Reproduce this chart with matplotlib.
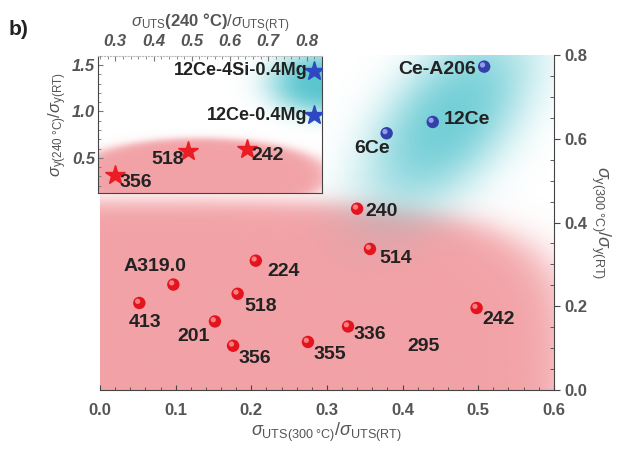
import numpy as np
import matplotlib
matplotlib.use("Agg")
import matplotlib.pyplot as plt
from matplotlib.ticker import MultipleLocator
from matplotlib.colors import to_rgb
import matplotlib.transforms as mtrans

plt.rcParams['font.family'] = ['Liberation Sans', 'DejaVu Sans']
plt.rcParams['mathtext.fontset'] = 'custom'
plt.rcParams['mathtext.rm'] = 'Liberation Sans'
plt.rcParams['mathtext.it'] = 'Liberation Sans:italic'
plt.rcParams['mathtext.bf'] = 'Liberation Sans:bold'

# main panel: conventional alloys (red) and Ce alloys (blue), 300 C
red_names = ['240', '514', '242', '336', '355', '413', 'A319.0', '201', '356', '518', '224']
red_x = [0.340, 0.357, 0.498, 0.328, 0.275, 0.052, 0.097, 0.152, 0.176, 0.182, 0.206]
red_y = [0.433, 0.337, 0.196, 0.152, 0.115, 0.208, 0.252, 0.164, 0.106, 0.230, 0.309]
blue_names = ['Ce-A206', '12Ce', '6Ce']
blue_x = [0.508, 0.440, 0.379]
blue_y = [0.772, 0.640, 0.613]
extra_label = '295'
extra_xy = (0.428, 0.105)

# inset: 240 C
inset_red_names = ['518', '242', '356']
inset_red_x = [0.49, 0.645, 0.30]
inset_red_y = [0.57, 0.59, 0.32]
inset_blue_names = ['12Ce-4Si-0.4Mg', '12Ce-0.4Mg']
inset_blue_x = [0.82, 0.82]
inset_blue_y = [1.44, 0.96]

# label placement (offset in points, ha, va)
red_lab = [((6, -2), 'left', 'center'), ((7, -7), 'left', 'center'),
           ((4, -8), 'left', 'center'), ((4, -6), 'left', 'center'),
           ((4, -9), 'left', 'center'), ((4, -14), 'center', 'center'),
           ((-13, 13), 'center', 'center'), ((-4, -11), 'right', 'center'),
           ((4, -9), 'left', 'center'), ((5, -9), 'left', 'center'),
           ((8, -8), 'left', 'center')]
blue_lab = [((-6, -2), 'right', 'center'), ((8, 2), 'left', 'center'),
            ((2, -11), 'right', 'center')]
inset_red_lab = [((-3, -6), 'right', 'center'), ((3, -4), 'left', 'center'),
                 ((3, -6), 'left', 'center')]
inset_blue_lab = [((-5, 0), 'right', 'center'), ((-5, 0), 'right', 'center')]

TXT = '#222222'
TICK = '#555555'
PINK = to_rgb('#f2a2a6')
CYAN = to_rgb('#52c3cd')

fig = plt.figure(figsize=(6.25, 4.5), dpi=100)
ax = fig.add_axes([0.160, 0.133, 0.726, 0.745])
ax.set_xlim(0, 0.6)
ax.set_ylim(0, 0.8)


def blob(axis, xlim, ylim, alpha_fn, color, z=0):
    xs = np.linspace(xlim[0], xlim[1], 400)
    ys = np.linspace(ylim[0], ylim[1], 400)
    X, Y = np.meshgrid(xs, ys)
    A = np.clip(alpha_fn(X, Y), 0, 1)
    img = np.zeros(X.shape + (4,))
    img[..., :3] = color
    img[..., 3] = A
    axis.imshow(img, extent=[xlim[0], xlim[1], ylim[0], ylim[1]], origin='lower',
                aspect='auto', interpolation='bilinear', zorder=z)


def red_main(X, Y):
    r = ((X / 0.64) ** 4 + (Y / 0.465) ** 4) ** 0.25
    return 1 / (1 + np.exp((r - 0.97) / 0.03))


def cyan_main(X, Y):
    u = (X - 0.462) * 757
    v = (Y - 0.645) * 419
    c, s = np.cos(np.radians(50)), np.sin(np.radians(50))
    a = u * c + v * s
    b = -u * s + v * c
    d = (a / 125) ** 2 + (b / 66) ** 2
    return 0.8 * np.exp(-1.4 * d ** 1.3)


blob(ax, (0, 0.6), (0, 0.8), red_main, PINK)
blob(ax, (0, 0.6), (0, 0.8), cyan_main, CYAN)


def spheres(axis, xs, ys, face, hi, size):
    axis.scatter(xs, ys, s=size, c=face, edgecolors='none', zorder=3)
    tr = mtrans.offset_copy(axis.transData, fig=fig, x=-1.2, y=1.2, units='points')
    axis.scatter(xs, ys, s=size * 0.18, c=hi, edgecolors='none', zorder=4,
                 transform=tr, alpha=0.8)


spheres(ax, red_x, red_y, '#e3141e', '#ff9a9a', 80)
spheres(ax, blue_x, blue_y, '#3340a8', '#a8b4ff', 80)

for n, x, y, (off, ha, va) in zip(red_names, red_x, red_y, red_lab):
    ax.annotate(n, (x, y), xytext=off, textcoords='offset points', ha=ha, va=va,
                fontsize=14, fontweight='bold', color=TXT, zorder=5)
for n, x, y, (off, ha, va) in zip(blue_names, blue_x, blue_y, blue_lab):
    ax.annotate(n, (x, y), xytext=off, textcoords='offset points', ha=ha, va=va,
                fontsize=14, fontweight='bold', color=TXT, zorder=5)
ax.text(extra_xy[0], extra_xy[1], extra_label, ha='center', va='center',
        fontsize=14, fontweight='bold', color=TXT, zorder=5)

ax.spines['top'].set_visible(False)
ax.spines['left'].set_visible(False)
ax.spines['bottom'].set_color('#444444')
ax.spines['right'].set_color('#444444')
ax.yaxis.tick_right()
ax.yaxis.set_label_position('right')
ax.xaxis.set_major_locator(MultipleLocator(0.1))
ax.xaxis.set_minor_locator(MultipleLocator(0.02))
ax.yaxis.set_major_locator(MultipleLocator(0.2))
ax.yaxis.set_minor_locator(MultipleLocator(0.05))
ax.tick_params(axis='x', which='both', direction='in', colors='#444444', labelcolor=TICK,
               labelsize=12, pad=9)
ax.tick_params(axis='y', which='major', direction='out', length=4, colors='#444444',
               labelcolor=TICK, labelsize=12)
ax.tick_params(axis='y', which='minor', direction='in', length=3, colors='#444444')
for lab in ax.get_xticklabels() + ax.get_yticklabels():
    lab.set_fontweight('bold')
ax.xaxis.set_major_formatter(plt.FuncFormatter(lambda v, p: f'{v:.1f}'))
ax.yaxis.set_major_formatter(plt.FuncFormatter(lambda v, p: f'{v:.1f}'))

ax.set_xlabel(r'$\sigma_{\mathrm{UTS(300\ °C)}}/\sigma_{\mathrm{UTS(RT)}}$',
              fontsize=13, color=TICK, labelpad=2)
ax.set_ylabel(r'$\sigma_{\mathrm{y(300\ °C)}}/\sigma_{\mathrm{y(RT)}}$',
              fontsize=13, color=TICK, rotation=270, labelpad=18)

# inset
ins = fig.add_axes([0.157, 0.571, 0.358, 0.305])
ins.set_xlim(0.255, 0.84)
ins.set_ylim(0.12, 1.60)


def red_inset(X, Y):
    u = (X - 0.52) / 0.35
    v = (Y - 0.30) / 0.42
    r = np.sqrt(u ** 2 + v ** 2)
    return 1 / (1 + np.exp((r - 0.97) / 0.05))


def cyan_inset(X, Y):
    u = (X - 0.84) / 0.17
    v = (Y - 1.30) / 0.42
    d = u ** 2 + v ** 2
    return 0.95 * np.exp(-1.8 * d ** 1.5)


blob(ins, (0.255, 0.84), (0.12, 1.60), red_inset, PINK)
blob(ins, (0.255, 0.84), (0.12, 1.60), cyan_inset, CYAN)

ins.plot(inset_red_x, inset_red_y, ls='none', marker='*', ms=15, color='#ea1c24', zorder=3)
ins.plot(inset_blue_x, inset_blue_y, ls='none', marker='*', ms=15, color='#2d48c0', zorder=3)
for n, x, y, (off, ha, va) in zip(inset_red_names, inset_red_x, inset_red_y, inset_red_lab):
    ins.annotate(n, (x, y), xytext=off, textcoords='offset points', ha=ha, va=va,
                 fontsize=14, fontweight='bold', color=TXT, zorder=5)
for n, x, y, (off, ha, va) in zip(inset_blue_names, inset_blue_x, inset_blue_y, inset_blue_lab):
    ins.annotate(n, (x, y), xytext=off, textcoords='offset points', ha=ha, va=va,
                 fontsize=13, fontweight='bold', color=TXT, zorder=5)

ins.xaxis.tick_top()
ins.xaxis.set_label_position('top')
ins.xaxis.set_major_locator(MultipleLocator(0.1))
ins.xaxis.set_minor_locator(MultipleLocator(0.02))
ins.yaxis.set_major_locator(MultipleLocator(0.5))
ins.yaxis.set_minor_locator(MultipleLocator(0.1))
ins.tick_params(which='both', direction='in', colors='#777777', labelcolor=TICK, labelsize=12)
ins.tick_params(axis='x', pad=5)
ins.tick_params(axis='y', pad=2)
for lab in ins.get_xticklabels() + ins.get_yticklabels():
    lab.set_fontweight('bold')
    lab.set_fontstyle('italic')
ins.xaxis.set_major_formatter(plt.FuncFormatter(lambda v, p: f'{v:.1f}'))
ins.yaxis.set_major_formatter(plt.FuncFormatter(lambda v, p: f'{v:.1f}'))
for s in ins.spines.values():
    s.set_color('#444444')
ins.spines['top'].set_color('#bbbbbb')
ins.spines['top'].set_linestyle(':')
ins.set_xlabel(r'$\sigma_{\mathrm{UTS}}$' + r'$\mathbf{(240\ °C)}$' + r'$/\sigma_{\mathrm{UTS(RT)}}$',
               fontsize=12, color=TICK, labelpad=5)
ins.set_ylabel(r'$\sigma_{\mathrm{y(240\ °C)}}/\sigma_{\mathrm{y(RT)}}$',
               fontsize=12, color=TICK, labelpad=2)

fig.text(0.013, 0.935, 'b)', fontsize=15, fontweight='bold', color=TXT, va='center')

fig.savefig('out.png', dpi=100)
